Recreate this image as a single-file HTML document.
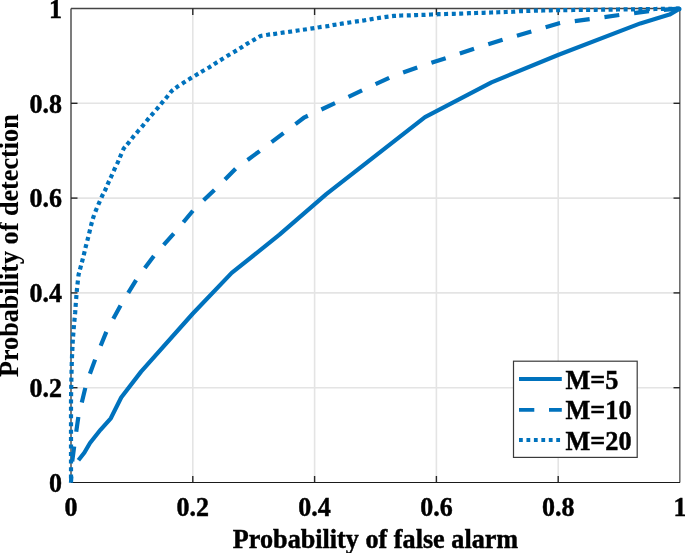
<!DOCTYPE html>
<html><head><meta charset="utf-8"><style>
html,body{margin:0;padding:0;background:#fff;}
svg{display:block;will-change:transform;}
text{font-family:"Liberation Serif",serif;font-weight:bold;font-size:26px;fill:#000;stroke:#000;stroke-width:0.45px;}
</style></head><body>
<svg width="685" height="553" viewBox="0 0 685 553">
<rect width="685" height="553" fill="#fff"/>
<g stroke="#e4e4e4" stroke-width="1.6" fill="none"><line x1="192.8" y1="8.5" x2="192.8" y2="482.5"/><line x1="71.0" y1="387.7" x2="680.0" y2="387.7"/><line x1="314.6" y1="8.5" x2="314.6" y2="482.5"/><line x1="71.0" y1="292.9" x2="680.0" y2="292.9"/><line x1="436.4" y1="8.5" x2="436.4" y2="482.5"/><line x1="71.0" y1="198.1" x2="680.0" y2="198.1"/><line x1="558.2" y1="8.5" x2="558.2" y2="482.5"/><line x1="71.0" y1="103.3" x2="680.0" y2="103.3"/></g>
<g fill="none" stroke-width="1.1">
<line x1="71.0" y1="8.5" x2="71.0" y2="482.5" stroke="#6e6e6e" stroke-width="1.8"/>
<line x1="679.8" y1="8.5" x2="679.8" y2="482.5" stroke="#6e6e6e" stroke-width="1.6"/>
<line x1="71.0" y1="8.5" x2="680.0" y2="8.5" stroke="#444" stroke-width="1.3"/>
<line x1="71.0" y1="482.5" x2="680.0" y2="482.5" stroke="#1a1a1a" stroke-width="1.2"/>
</g>
<g stroke="#262626" stroke-width="1.4"><line x1="192.8" y1="482.5" x2="192.8" y2="476.0"/><line x1="192.8" y1="8.5" x2="192.8" y2="15.0"/><line x1="71.0" y1="387.7" x2="77.5" y2="387.7"/><line x1="680.0" y1="387.7" x2="673.5" y2="387.7"/><line x1="314.6" y1="482.5" x2="314.6" y2="476.0"/><line x1="314.6" y1="8.5" x2="314.6" y2="15.0"/><line x1="71.0" y1="292.9" x2="77.5" y2="292.9"/><line x1="680.0" y1="292.9" x2="673.5" y2="292.9"/><line x1="436.4" y1="482.5" x2="436.4" y2="476.0"/><line x1="436.4" y1="8.5" x2="436.4" y2="15.0"/><line x1="71.0" y1="198.1" x2="77.5" y2="198.1"/><line x1="680.0" y1="198.1" x2="673.5" y2="198.1"/><line x1="558.2" y1="482.5" x2="558.2" y2="476.0"/><line x1="558.2" y1="8.5" x2="558.2" y2="15.0"/><line x1="71.0" y1="103.3" x2="77.5" y2="103.3"/><line x1="680.0" y1="103.3" x2="673.5" y2="103.3"/></g>
<g fill="none" stroke="#0072BD" stroke-width="4.2" stroke-linejoin="round">
<polyline points="78.4,460.2 84.3,452.8 90.0,443.0 100.5,429.8 110.8,418.3 121.2,397.5 141.1,371.6 192.9,313.5 231.7,272.9 279.5,234.7 326.3,194.2 425.0,117.2 491.5,82.4 558.0,55.0 640.3,23.4 669.5,14.6 680.0,8.5"/>
<polyline points="71.0,482.5 72.0,463.0 74.8,442.0 78.4,416.5 86.5,383.0 95.6,358.3 107.1,330.0 121.7,303.5 137.6,277.6 155.6,253.7 175.5,231.8 193.5,210.0 215.0,189.4 236.0,168.4 259.9,150.9 283.5,133.1 304.5,117.3 336.0,102.7 362.6,90.2 391.1,76.9 417.6,67.4 446.1,58.0 474.6,48.5 503.0,39.7 531.5,31.4 560.0,23.0 590.8,19.0 620.4,14.8 650.0,11.0 680.0,8.5" stroke-dasharray="15 14.912" stroke-dashoffset="8.82"/>
<path d="M71.00,482.50 L71.00,481.90 M71.00,478.60 L71.00,476.60 L71.00,474.60 M71.00,471.20 L71.00,469.20 L71.00,467.20 M71.00,463.60 L71.00,461.60 L71.00,459.60 M71.00,456.10 L71.00,454.10 L71.00,452.10 M71.00,448.50 L71.00,446.50 L71.00,444.50 M71.00,441.10 L71.00,439.10 L71.00,437.10 M71.00,433.80 L71.00,431.80 L71.00,429.80 M71.00,426.20 L71.00,424.20 L71.00,422.20 M71.00,418.20 L71.00,416.20 L71.00,414.20 M71.00,410.80 L71.00,408.80 L71.00,406.80 M71.00,403.40 L71.00,401.40 L71.03,399.40 M71.07,396.10 L71.10,394.10 L71.14,392.10 M71.19,388.90 L71.23,386.90 L71.27,384.90 M71.32,381.60 L71.36,379.60 L71.41,377.60 M71.51,373.80 L71.55,371.80 L71.60,369.80 M71.70,366.00 L71.75,364.00 L71.82,362.00 M71.96,358.20 L72.03,356.20 L72.13,354.20 M72.28,350.90 L72.38,348.90 L72.47,346.90 M72.62,343.70 L72.72,341.70 L72.86,339.70 M73.09,336.50 L73.23,334.50 L73.38,332.51 M73.65,329.09 L73.80,327.10 L73.99,325.11 M74.31,321.79 L74.50,319.80 L74.68,317.81 M75.02,314.19 L75.20,312.20 L75.33,310.20 M75.57,306.80 L75.70,304.80 L75.85,302.81 M76.15,298.99 L76.30,297.00 L76.47,295.01 M76.73,291.89 L76.90,289.90 L77.11,287.91 M77.49,284.49 L77.70,282.50 L77.93,280.51 M78.37,276.59 L78.60,274.60 L79.12,272.67 M79.98,269.43 L80.50,267.50 L81.02,265.57 M81.88,262.33 L82.40,260.40 L82.89,258.46 M83.71,255.14 L84.20,253.20 L84.67,251.25 M85.43,248.05 L85.90,246.10 L86.41,244.17 M87.29,240.83 L87.80,238.90 L88.27,236.96 M89.13,233.44 L89.60,231.50 L90.07,229.56 M90.93,226.04 L91.40,224.10 L91.94,222.17 M92.86,218.93 L93.40,217.00 L94.10,215.13 M95.40,211.67 L96.10,209.80 L96.90,207.97 M98.30,204.73 L99.10,202.90 L99.90,201.07 M101.40,197.63 L102.20,195.80 L103.13,194.03 M104.57,191.27 L105.50,189.50 L106.27,187.65 M107.53,184.65 L108.30,182.80 L109.15,180.99 M110.55,178.01 L111.40,176.20 L112.21,174.37 M113.69,171.03 L114.50,169.20 L115.36,167.40 M116.94,164.10 L117.80,162.30 L118.58,160.46 M119.82,157.54 L120.60,155.70 L121.39,153.86 M122.91,150.34 L123.70,148.50 L125.00,146.98 M127.00,144.62 L128.30,143.10 L129.53,141.52 M131.67,138.78 L132.90,137.20 L134.20,135.68 M136.50,133.02 L137.80,131.50 L139.11,129.99 M141.59,127.11 L142.90,125.60 L144.15,124.04 M146.35,121.26 L147.60,119.70 L148.90,118.18 M151.10,115.62 L152.40,114.10 L153.72,112.60 M156.08,109.90 L157.40,108.40 L158.67,106.86 M160.83,104.24 L162.10,102.70 L163.39,101.17 M165.61,98.53 L166.90,97.00 L168.14,95.43 M170.26,92.77 L171.50,91.20 L173.08,89.98 M175.62,88.02 L177.20,86.80 L178.89,85.73 M182.11,83.67 L183.80,82.60 L185.49,81.53 M188.41,79.67 L190.10,78.60 L191.81,77.57 M194.89,75.73 L196.60,74.70 L198.32,73.68 M201.08,72.02 L202.80,71.00 L204.53,70.00 M207.67,68.20 L209.40,67.20 L211.08,66.12 M213.92,64.28 L215.60,63.20 L217.30,62.15 M220.20,60.35 L221.90,59.30 L223.59,58.23 M226.71,56.27 L228.40,55.20 L230.13,54.20 M233.27,52.40 L235.00,51.40 L236.70,50.35 M239.60,48.55 L241.30,47.50 L242.98,46.42 M245.82,44.58 L247.50,43.50 L249.24,42.51 M252.26,40.79 L254.00,39.80 L255.73,38.79 M258.77,37.01 L260.50,36.00 L262.47,35.66 M266.13,35.04 L268.10,34.70 L270.08,34.45 M273.22,34.05 L275.20,33.80 L277.18,33.51 M280.62,32.99 L282.60,32.70 L284.58,32.44 M288.12,31.96 L290.10,31.70 L292.07,31.38 M295.63,30.82 L297.60,30.50 L299.58,30.23 M302.92,29.77 L304.90,29.50 L306.88,29.21 M310.42,28.69 L312.40,28.40 L314.37,28.07 M317.63,27.53 L319.60,27.20 L321.58,26.94 M325.32,26.46 L327.30,26.20 L329.26,25.82 M332.54,25.18 L334.50,24.80 L336.48,24.50 M339.82,24.00 L341.80,23.70 L343.77,23.38 M347.33,22.82 L349.30,22.50 L351.28,22.21 M354.92,21.69 L356.90,21.40 L358.88,21.13 M362.22,20.67 L364.20,20.40 L366.17,20.05 M369.63,19.45 L371.60,19.10 L373.57,18.78 M377.03,18.22 L379.00,17.90 L380.98,17.61 M384.52,17.09 L386.50,16.80 L388.49,16.56 M392.01,16.14 L394.00,15.90 L396.00,15.79 M399.20,15.61 L401.20,15.50 L403.20,15.47 M406.80,15.43 L408.80,15.40 L410.80,15.30 M414.10,15.15 L416.10,15.05 L418.10,15.01 M421.50,14.94 L423.50,14.90 L425.50,14.79 M429.00,14.61 L431.00,14.50 L433.00,14.42 M436.60,14.28 L438.60,14.20 L440.60,14.15 M444.10,14.05 L446.10,14.00 L448.10,13.95 M451.80,13.85 L453.80,13.80 L455.80,13.75 M459.20,13.65 L461.20,13.60 L463.20,13.50 M466.90,13.30 L468.90,13.20 L470.90,13.14 M474.10,13.06 L476.10,13.00 L478.10,12.95 M481.60,12.85 L483.60,12.80 L485.60,12.72 M489.10,12.58 L491.10,12.50 L493.10,12.43 M496.25,12.32 L498.25,12.25 L500.25,12.18 M503.70,12.07 L505.70,12.00 L507.70,11.92 M511.20,11.78 L513.20,11.70 L515.19,11.55 M519.01,11.25 L521.00,11.10 L523.00,11.05 M526.30,10.95 L528.30,10.90 L530.30,10.82 M533.90,10.68 L535.90,10.60 L537.90,10.57 M541.20,10.53 L543.20,10.50 L545.20,10.45 M548.80,10.35 L550.80,10.30 L552.80,10.27 M556.10,10.23 L558.10,10.20 L560.10,10.17 M563.30,10.13 L565.30,10.10 L567.30,10.07 M571.20,10.03 L573.20,10.00 L575.20,9.97 M578.80,9.93 L580.80,9.90 L582.80,9.90 M586.10,9.90 L588.10,9.90 L590.10,9.87 M593.70,9.83 L595.70,9.80 L597.70,9.77 M601.10,9.73 L603.10,9.70 L605.10,9.67 M608.60,9.63 L610.60,9.60 L612.60,9.57 M616.00,9.53 L618.00,9.50 L620.00,9.47 M623.60,9.43 L625.60,9.40 L627.60,9.37 M631.00,9.33 L633.00,9.30 L635.00,9.27 M638.40,9.23 L640.40,9.20 L642.40,9.17 M645.90,9.13 L647.90,9.10 L649.90,9.07 M653.40,9.03 L655.40,9.00 L657.40,8.97 M660.90,8.93 L662.90,8.90 L664.90,8.87 M668.40,8.83 L670.40,8.80 L672.40,8.75 M675.90,8.65 L677.90,8.60 L679.90,8.50"/>
</g>
<text transform="translate(62,491.7) scale(1,1.075)" text-anchor="end">0</text><text transform="translate(62,396.9) scale(1,1.075)" text-anchor="end">0.2</text><text transform="translate(62,302.1) scale(1,1.075)" text-anchor="end">0.4</text><text transform="translate(62,207.3) scale(1,1.075)" text-anchor="end">0.6</text><text transform="translate(62,112.5) scale(1,1.075)" text-anchor="end">0.8</text><text transform="translate(62,17.7) scale(1,1.075)" text-anchor="end">1</text>
<text transform="translate(71.0,516) scale(1,1.075)" text-anchor="middle">0</text><text transform="translate(192.8,516) scale(1,1.075)" text-anchor="middle">0.2</text><text transform="translate(314.6,516) scale(1,1.075)" text-anchor="middle">0.4</text><text transform="translate(436.4,516) scale(1,1.075)" text-anchor="middle">0.6</text><text transform="translate(558.2,516) scale(1,1.075)" text-anchor="middle">0.8</text><text transform="translate(680.0,516) scale(1,1.075)" text-anchor="middle">1</text>
<text transform="translate(375.5,547.5) scale(1,1.075)" text-anchor="middle" style="font-size:26.2px">Probability of false alarm</text>
<text transform="translate(17.8,245.7) rotate(-90) scale(1,1.075)" text-anchor="middle" style="font-size:26.2px;stroke-width:0.1px">Probability of detection</text>
<rect x="513.5" y="361.2" width="123.7" height="96.2" fill="#fff" stroke="#3a3a3a" stroke-width="1.2"/>
<g stroke="#0072BD" stroke-width="3.8" fill="none">
<line x1="519" y1="379" x2="561.8" y2="379"/>
<line x1="519" y1="409.8" x2="561.8" y2="409.8" stroke-dasharray="15.3 14.7"/>
<line x1="519" y1="440" x2="561.8" y2="440" stroke-dasharray="3.8 3.65"/>
</g>
<circle cx="679.3" cy="9" r="2.3" fill="#0072BD"/>
<text transform="translate(565.5,388.5) scale(1,1.075)" style="font-size:26.3px">M=5</text>
<text transform="translate(565.5,419) scale(1,1.075)" style="font-size:26.3px">M=10</text>
<text transform="translate(565.5,449.5) scale(1,1.075)" style="font-size:26.3px">M=20</text>
</svg>
</body></html>
